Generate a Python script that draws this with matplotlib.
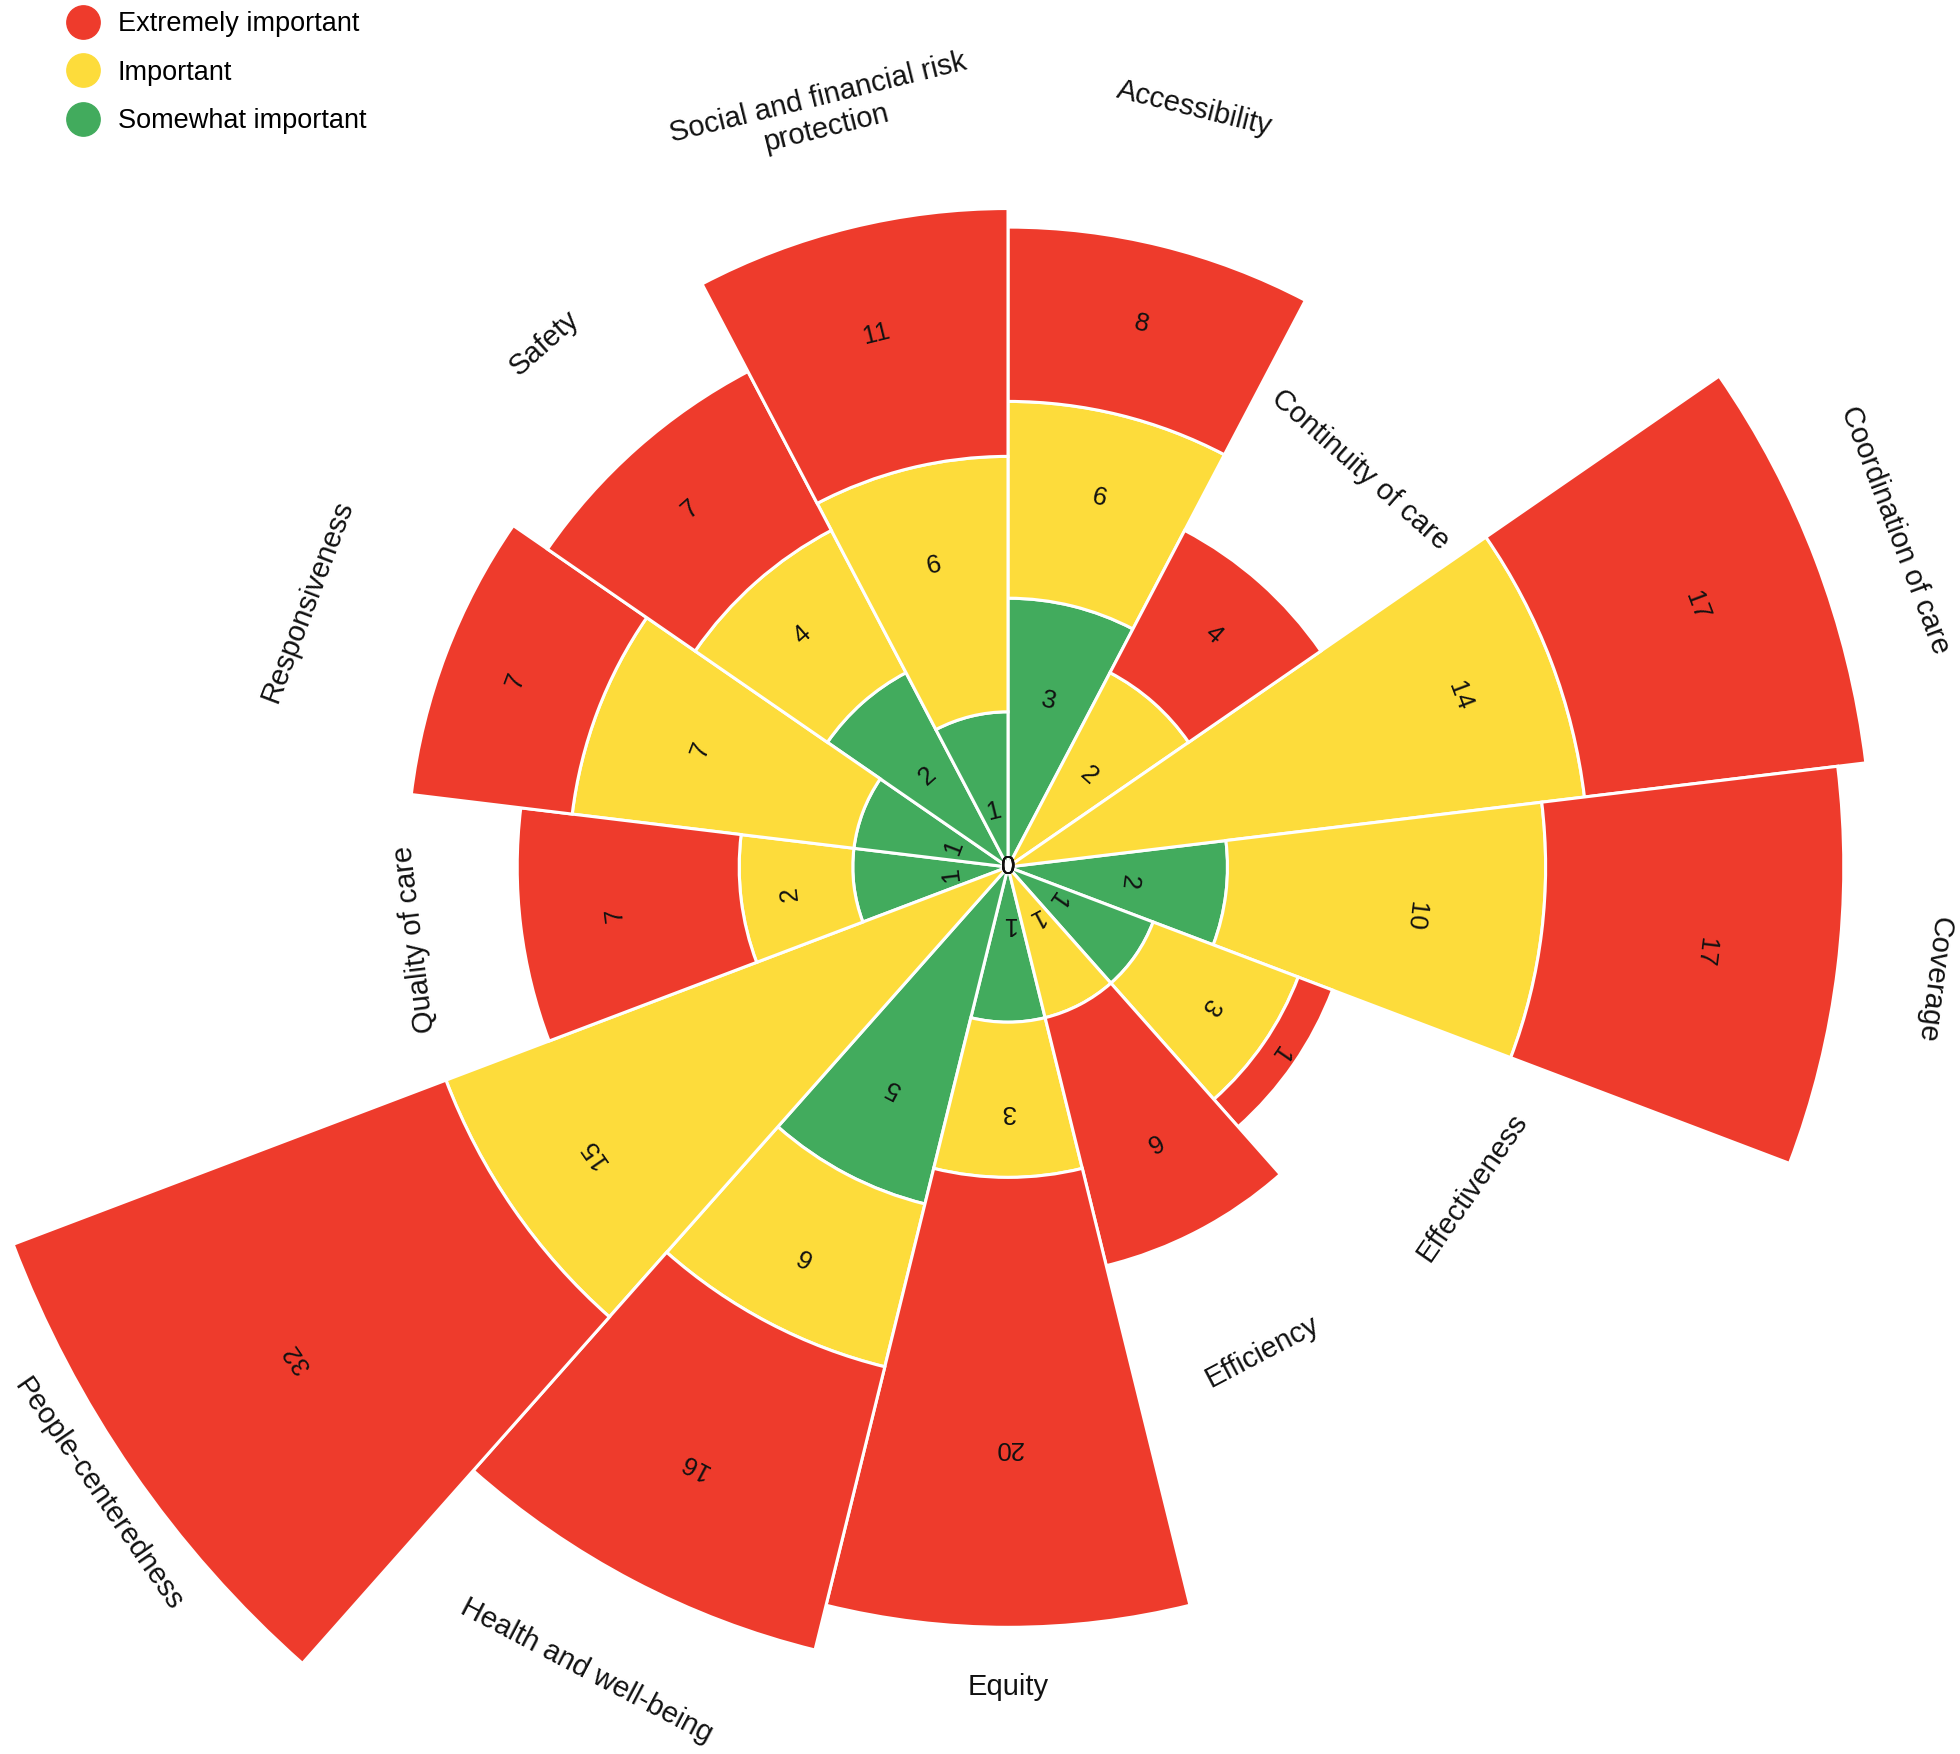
import numpy as np
import matplotlib
matplotlib.use("Agg")
import matplotlib.pyplot as plt
from matplotlib.lines import Line2D

plt.rcParams["font.family"] = ["Liberation Sans", "DejaVu Sans"]

# categories in clockwise order from 12 o'clock
CATEGORIES = [
    "Accessibility",
    "Continuity of care",
    "Coordination of care",
    "Coverage",
    "Effectiveness",
    "Efficiency",
    "Equity",
    "Health and well-being",
    "People-centeredness",
    "Quality of care",
    "Responsiveness",
    "Safety",
    "Social and financial risk\nprotection",
]
SOMEWHAT = [3, 0, 0, 2, 1, 0, 1, 5, 0, 1, 1, 2, 1]
IMPORTANT = [6, 2, 14, 10, 3, 1, 3, 6, 15, 2, 7, 4, 6]
EXTREMELY = [8, 4, 17, 17, 1, 6, 20, 16, 32, 7, 7, 7, 11]
LEVELS = ["Somewhat important", "Important", "Extremely important"]

# style
COLORS = {"Somewhat important": "#42AB5D", "Important": "#FDDC3B", "Extremely important": "#EE3B2C"}
LABEL_PAD = [141, 151, 85, 97, 217, 137, 60, 101, 41, 107, 148, 140, 118]  # pixels beyond bar end
INNER_SHIFT = 0.63  # sqrt units, pull-in for labels of the innermost ring
R_MAX = 49

fig = plt.figure(figsize=(19.6, 17.54), dpi=100)
W, H = 1960, 1754
cx, cy, px_per_unit = 1008, 867, 155.2
R_px = np.sqrt(R_MAX) * px_per_unit
ax = fig.add_axes([(cx - R_px) / W, (H - cy - R_px) / H, 2 * R_px / W, 2 * R_px / H], projection="polar")
ax.set_theta_zero_location("N")
ax.set_theta_direction(-1)
ax.set_yscale("function", functions=(lambda v: np.sqrt(np.clip(v, 0, None)), lambda r: np.square(r)))
ax.set_ylim(0, R_MAX)
ax.set_xticks([])
ax.set_yticks([])
ax.grid(False)
ax.spines["polar"].set_visible(False)
ax.patch.set_alpha(0)

n = len(CATEGORIES)
width = 2 * np.pi / n
theta = (np.arange(n) + 0.5) * width
series = [SOMEWHAT, IMPORTANT, EXTREMELY]

bottom = np.zeros(n)
for level, vals in zip(LEVELS, series):
    vals = np.asarray(vals, dtype=float)
    ax.bar(theta, vals, width=width, bottom=bottom, color=COLORS[level],
           edgecolor="white", linewidth=2.2, zorder=2)
    for i in range(n):
        lo, hi = bottom[i], bottom[i] + vals[i]
        if lo == 0:
            r = max(np.sqrt(hi) - INNER_SHIFT, 0) ** 2
        else:
            r = lo + vals[i] / 2
        # zero counts all sit on the centre; keep them upright so they stack cleanly
        rot = 0 if vals[i] == 0 else -np.degrees(theta[i])
        ax.text(theta[i], r, f"{int(vals[i])}", rotation=rot,
                rotation_mode="anchor", ha="center", va="center", fontsize=18.5,
                color="#111111", zorder=3)
    bottom = bottom + vals

totals = bottom
for i, name in enumerate(CATEGORIES):
    deg = np.degrees(theta[i])
    rot = -deg + 180 if 100 < deg < 260 else -deg
    pad = LABEL_PAD[i]
    ax.annotate(name, xy=(theta[i], totals[i]),
                xytext=(pad * np.sin(theta[i]), pad * np.cos(theta[i])),
                textcoords="offset pixels", rotation=rot, rotation_mode="anchor",
                ha="center", va="center", multialignment="center",
                fontsize=21, color="#111111", linespacing=1.15)

handles = [Line2D([], [], marker="o", linestyle="", markersize=24,
                  markerfacecolor=COLORS[lv], markeredgecolor=COLORS[lv])
           for lv in LEVELS[::-1]]
fig.legend(handles, LEVELS[::-1], loc="upper left", bbox_to_anchor=(0.0325, 0.9935),
           frameon=False, fontsize=19.5, handlelength=1.4, handletextpad=0.6,
           labelspacing=0.83, borderpad=0, borderaxespad=0)

fig.savefig("out.png", dpi=100)
